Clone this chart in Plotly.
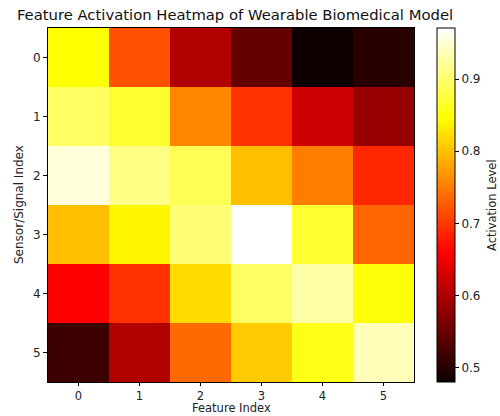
import plotly.graph_objects as go

x_labels = [0, 1, 2, 3, 4, 5]
y_labels = [0, 1, 2, 3, 4, 5]

row0 = [0.846, 0.717, 0.601, 0.545, 0.482, 0.501]
row1 = [0.895, 0.870, 0.758, 0.696, 0.622, 0.582]
row2 = [0.953, 0.912, 0.887, 0.799, 0.752, 0.688]
row3 = [0.799, 0.840, 0.904, 0.971, 0.870, 0.733]
row4 = [0.659, 0.696, 0.820, 0.895, 0.928, 0.850]
row5 = [0.516, 0.601, 0.736, 0.808, 0.858, 0.937]
z = [row0, row1, row2, row3, row4, row5]

zmin = 0.48
zmax = 0.971

hot = [
    [0.0, "rgb(11,0,0)"],
    [0.365079, "rgb(255,0,0)"],
    [0.746032, "rgb(255,255,0)"],
    [1.0, "rgb(255,255,255)"],
]

font = "DejaVu Sans"
plot_l, plot_r = 48, 414
plot_t, plot_b = 28, 382
W, H = 500, 416

def px_x(px):
    return (px - plot_l) / (plot_r - plot_l)

def px_y(py):
    return (plot_b - py) / (plot_b - plot_t)

fig = go.Figure(go.Heatmap(
    z=z, x=x_labels, y=y_labels,
    colorscale=hot, zmin=zmin, zmax=zmax,
    colorbar=dict(
        x=px_x(437), xanchor="left", xref="paper", xpad=0,
        y=0.5, yanchor="middle", len=1.0, lenmode="fraction", ypad=0,
        thickness=18, thicknessmode="pixels",
        outlinewidth=1, outlinecolor="black",
        ticks="outside", ticklen=4, tickcolor="black",
        tickvals=[0.5, 0.6, 0.7, 0.8, 0.9],
        ticktext=["0.5", "0.6", "0.7", "0.8", "0.9"],
        tickfont=dict(family=font, size=12, color="#222"),
    ),
))

fig.add_annotation(
    text="Activation Level", xref="paper", yref="paper",
    x=px_x(492), y=0.5,
    xanchor="center", yanchor="middle", textangle=-90, showarrow=False,
    font=dict(family=font, size=11.5, color="#222"),
)
fig.add_annotation(
    text="Feature Index", xref="paper", yref="paper",
    x=0.5, y=px_y(416), borderpad=0,
    xanchor="center", yanchor="bottom", showarrow=False,
    font=dict(family=font, size=11.5, color="#222"),
)
fig.add_annotation(
    text="Sensor/Signal Index", xref="paper", yref="paper",
    x=px_x(19), y=0.5,
    xanchor="center", yanchor="middle", textangle=-90, showarrow=False,
    font=dict(family=font, size=12, color="#222"),
)

fig.update_layout(
    width=W, height=H,
    margin=dict(l=plot_l, r=W - plot_r, t=plot_t, b=H - plot_b, autoexpand=False),
    paper_bgcolor="white", plot_bgcolor="white",
    title=dict(text="Feature Activation Heatmap of Wearable Biomedical Model",
               x=235 / W, xanchor="center",
               y=1 - 15 / H, yanchor="middle",
               font=dict(family=font, size=14.8, color="#111")),
    font=dict(family=font, size=12, color="#222"),
)

fig.update_xaxes(
    tickmode="array", tickvals=x_labels, ticktext=[str(v) for v in x_labels],
    ticks="outside", ticklen=3, tickcolor="black",
    tickfont=dict(family=font, size=11.5, color="#222"),
    showline=True, linecolor="black", linewidth=1, mirror=True,
    showgrid=False, zeroline=False, range=[-0.5, 5.5], automargin=False,
)
fig.update_yaxes(
    tickmode="array", tickvals=y_labels, ticktext=[str(v) for v in y_labels],
    ticks="outside", ticklen=4, tickcolor="black",
    tickfont=dict(family=font, size=12, color="#222"),
    showline=True, linecolor="black", linewidth=1, mirror=True,
    showgrid=False, zeroline=False, range=[5.5, -0.5], automargin=False,
)

fig.write_html("out.html")
